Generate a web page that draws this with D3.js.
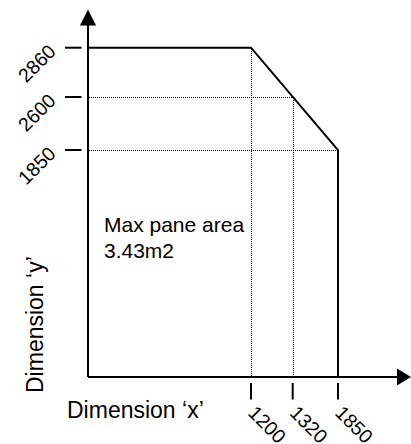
<!DOCTYPE html>
<html>
<head>
<meta charset="utf-8">
<script src="https://cdn.jsdelivr.net/npm/d3@7"></script>
<style>
  html, body { margin: 0; padding: 0; background: #fff; }
  svg { display: block; }
  text { font-family: "Liberation Sans", Arial, sans-serif; fill: #000; }
</style>
</head>
<body>
<svg id="chart" width="411" height="444"></svg>
<script>
// ---- data ----
const xTicks = [1200, 1320, 1850];
const yTicks = [2860, 2600, 1850];
const xTickLabels = ["1200", "1320", "1850"];
const yTickLabels = ["2860", "2600", "1850"];
// outline of the allowed pane area (x, y in mm)
const outlineX = [0, 0, 1200, 1850, 1850];
const outlineY = [0, 2860, 2860, 1850, 0];
// dotted guide lines [x1, y1, x2, y2]
const guideX1 = [0, 0, 1200, 1320];
const guideY1 = [2600, 1850, 2860, 2600];
const guideX2 = [1320, 1850, 1200, 1320];
const guideY2 = [2600, 1850, 0, 0];
const xLabel = "Dimension \u2018x\u2019";
const yLabel = "Dimension \u2018y\u2019";
const noteLines = ["Max pane area", "3.43m2"];

// ---- scales (schematic, piecewise) ----
const x = d3.scaleLinear().domain([0, 1200, 1320, 1850]).range([88, 251, 292.7, 338]);
const y = d3.scaleLinear().domain([0, 1850, 2600, 2860]).range([377, 150, 97, 47.7]);

const svg = d3.select("#chart");

// dotted guides (snapped to pixel centres)
const snap = v => Math.round(v) + 0.5;
svg.append("g").selectAll("line").data(guideX1).join("line")
  .attr("x1", (d, i) => snap(x(guideX1[i])))
  .attr("y1", (d, i) => snap(y(guideY1[i])))
  .attr("x2", (d, i) => snap(x(guideX2[i])))
  .attr("y2", (d, i) => snap(y(guideY2[i])))
  .attr("stroke", "#000")
  .attr("stroke-width", 1)
  .attr("shape-rendering", "crispEdges")
  .attr("stroke-dasharray", "1,1");

// outline
const pts = outlineX.map((v, i) => [x(v), y(outlineY[i])]);
svg.append("path")
  .attr("d", d3.line()(pts))
  .attr("fill", "none")
  .attr("stroke", "#000")
  .attr("stroke-width", 2)
  .attr("stroke-linejoin", "miter");

// axes lines
const x0 = x(0), y0 = y(0);
svg.append("line").attr("x1", x0).attr("y1", y0).attr("x2", 398).attr("y2", y0)
  .attr("stroke", "#000").attr("stroke-width", 2);
svg.append("line").attr("x1", x0).attr("y1", y0).attr("x2", x0).attr("y2", 25)
  .attr("stroke", "#000").attr("stroke-width", 2);
// arrowheads
svg.append("path").attr("d", `M397,${y0-8.5} L411,${y0} L397,${y0+8.5} Z`).attr("fill", "#000");
svg.append("path").attr("d", `M${x0-8},25.5 L${x0},9.5 L${x0+8},25.5 Z`).attr("fill", "#000");

// y ticks
svg.append("g").selectAll("line").data(yTicks).join("line")
  .attr("x1", 65).attr("x2", 81.5)
  .attr("y1", d => y(d)).attr("y2", d => y(d))
  .attr("stroke", "#000").attr("stroke-width", 2);
svg.append("g").selectAll("text").data(yTicks).join("text")
  .attr("transform", d => `translate(57,${y(d) + 5}) rotate(-45)`)
  .attr("text-anchor", "end")
  .attr("font-size", 19.5)
  .text((d, i) => yTickLabels[i]);

// x ticks
svg.append("g").selectAll("line").data(xTicks).join("line")
  .attr("x1", d => x(d)).attr("x2", d => x(d))
  .attr("y1", 383).attr("y2", 399.5)
  .attr("stroke", "#000").attr("stroke-width", 2);
svg.append("g").selectAll("text").data(xTicks).join("text")
  .attr("transform", d => `translate(${x(d) - 4},414) rotate(45)`)
  .attr("text-anchor", "start")
  .attr("font-size", 19.5)
  .text((d, i) => xTickLabels[i]);

// axis titles
svg.append("text").attr("x", 67).attr("y", 418).attr("font-size", 23).text(xLabel);
svg.append("text").attr("transform", "translate(43,393) rotate(-90)").attr("font-size", 23).text(yLabel);

// note
svg.append("text").attr("font-size", 21)
  .selectAll("tspan").data(noteLines).join("tspan")
  .attr("x", 104).attr("y", (d, i) => 232 + i * 25.5)
  .text(d => d);
</script>
</body>
</html>
